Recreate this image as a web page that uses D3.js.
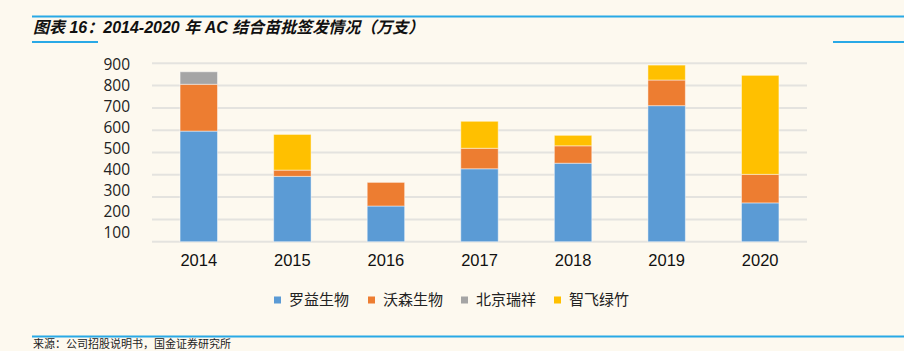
<!DOCTYPE html>
<html>
<head>
<meta charset="utf-8">
<script src="https://cdn.jsdelivr.net/npm/d3@7"></script>
<style>
  body { margin: 0; background: #fdf9ef; }
  svg { display: block; }
</style>
</head>
<body>
<svg id="chart" width="904" height="351"></svg>
<script>
// Data
var years = ["2014", "2015", "2016", "2017", "2018", "2019", "2020"];
var luoyi   = [596, 393, 260, 427, 452, 710, 274];
var wosen   = [210, 28, 106, 92, 78, 115, 128];
var ruixiang = [56, 0, 0, 0, 0, 0, 0];
var zhifei  = [0, 160, 0, 121, 47, 67, 444];
var seriesNames = ["罗益生物", "沃森生物", "北京瑞祥", "智飞绿竹"];
var yTicks = [100, 200, 300, 400, 500, 600, 700, 800, 900];

var colors = ["#5b9bd5", "#ed7d31", "#a5a5a5", "#ffc000"];

var svg = d3.select("svg#chart");

// build rows for the stack
var rows = years.map(function (y, i) {
    return { year: y, s0: luoyi[i], s1: wosen[i], s2: ruixiang[i], s3: zhifei[i] };
});
var stack = d3.stack().keys(["s0", "s1", "s2", "s3"]);
var layers = stack(rows);

// scales
var x = d3.scaleBand().domain(years).range([152, 807]).paddingInner(0.6).paddingOuter(0.3);
var y = d3.scaleLinear().domain([100, 900]).range([241.7, 63.3]);
// the tick labels sit a little off the gridlines in the original
var yLabel = d3.scaleLinear().domain([100, 900]).range([233, 65]);

// title block
var blue = "#29a9e6";
svg.append("line").attr("x1", 32).attr("x2", 904).attr("y1", 16.5).attr("y2", 16.5)
    .attr("stroke", blue).attr("stroke-width", 2);
svg.append("line").attr("x1", 32).attr("x2", 98).attr("y1", 42).attr("y2", 42)
    .attr("stroke", blue).attr("stroke-width", 2);
svg.append("line").attr("x1", 833).attr("x2", 904).attr("y1", 42).attr("y2", 42)
    .attr("stroke", blue).attr("stroke-width", 2);
svg.append("text")
    .attr("x", 33).attr("y", 33)
    .attr("font-family", "'Liberation Sans', 'Noto Sans CJK SC', sans-serif")
    .attr("font-size", 16).attr("font-style", "italic").attr("font-weight", "bold")
    .attr("fill", "#111")
    .text("图表 16：2014-2020 年 AC 结合苗批签发情况（万支）");

// gridlines
svg.append("g")
    .selectAll("line")
    .data(yTicks)
    .enter()
    .append("line")
    .attr("x1", 152).attr("x2", 807)
    .attr("y1", function (d) { return y(d); })
    .attr("y2", function (d) { return y(d); })
    .attr("stroke", "#e4e3df").attr("stroke-width", 2);

// y labels
svg.append("g")
    .selectAll("text")
    .data(yTicks)
    .enter()
    .append("text")
    .attr("x", 130)
    .attr("y", function (d) { return yLabel(d); })
    .attr("dy", "0.35em")
    .attr("text-anchor", "end")
    .attr("font-family", "'Open Sans', 'Noto Sans', sans-serif")
    .attr("font-size", 15.5)
    .attr("fill", "#222")
    .text(function (d) { return d; });

// bars
svg.append("g")
    .selectAll("g")
    .data(layers)
    .enter()
    .append("g")
    .attr("fill", function (d, i) { return colors[i]; })
    .selectAll("rect")
    .data(function (d) { return d; })
    .enter()
    .append("rect")
    .filter(function (d) { return d[1] > d[0]; })
    .attr("x", function (d) { return x(d.data.year); })
    .attr("width", x.bandwidth())
    .attr("y", function (d) { return y(d[1]); })
    .attr("height", function (d) { return y(Math.max(d[0], 100)) - y(d[1]); })
    .attr("stroke", "rgba(255,255,255,0.45)")
    .attr("stroke-width", 1);

// x labels
svg.append("g")
    .selectAll("text")
    .data(years)
    .enter()
    .append("text")
    .attr("x", function (d) { return x(d) + x.bandwidth() / 2; })
    .attr("y", 260)
    .attr("dy", "0.35em")
    .attr("text-anchor", "middle")
    .attr("font-family", "'Liberation Sans', Arial, sans-serif")
    .attr("font-size", 16.5)
    .attr("fill", "#111")
    .text(function (d) { return d; });

// legend
var legendX = [274, 368, 461, 554];
var legend = svg.append("g")
    .selectAll("g")
    .data(seriesNames)
    .enter()
    .append("g")
    .attr("transform", function (d, i) { return "translate(" + legendX[i] + ",300)"; });
legend.append("rect")
    .attr("x", 0).attr("y", -3.5).attr("width", 7).attr("height", 7)
    .attr("fill", function (d, i) { return colors[i]; });
legend.append("text")
    .attr("x", 15).attr("y", 0).attr("dy", "0.35em")
    .attr("font-family", "'Noto Sans CJK SC', sans-serif")
    .attr("font-size", 15)
    .attr("fill", "#222")
    .text(function (d) { return d; });

// source
svg.append("line").attr("x1", 32).attr("x2", 904).attr("y1", 336.5).attr("y2", 336.5)
    .attr("stroke", blue).attr("stroke-width", 2);
svg.append("text")
    .attr("x", 33).attr("y", 348)
    .attr("font-family", "'Noto Sans CJK SC', sans-serif")
    .attr("font-size", 11)
    .attr("fill", "#222")
    .text("来源：公司招股说明书，国金证券研究所");
</script>
</body>
</html>
